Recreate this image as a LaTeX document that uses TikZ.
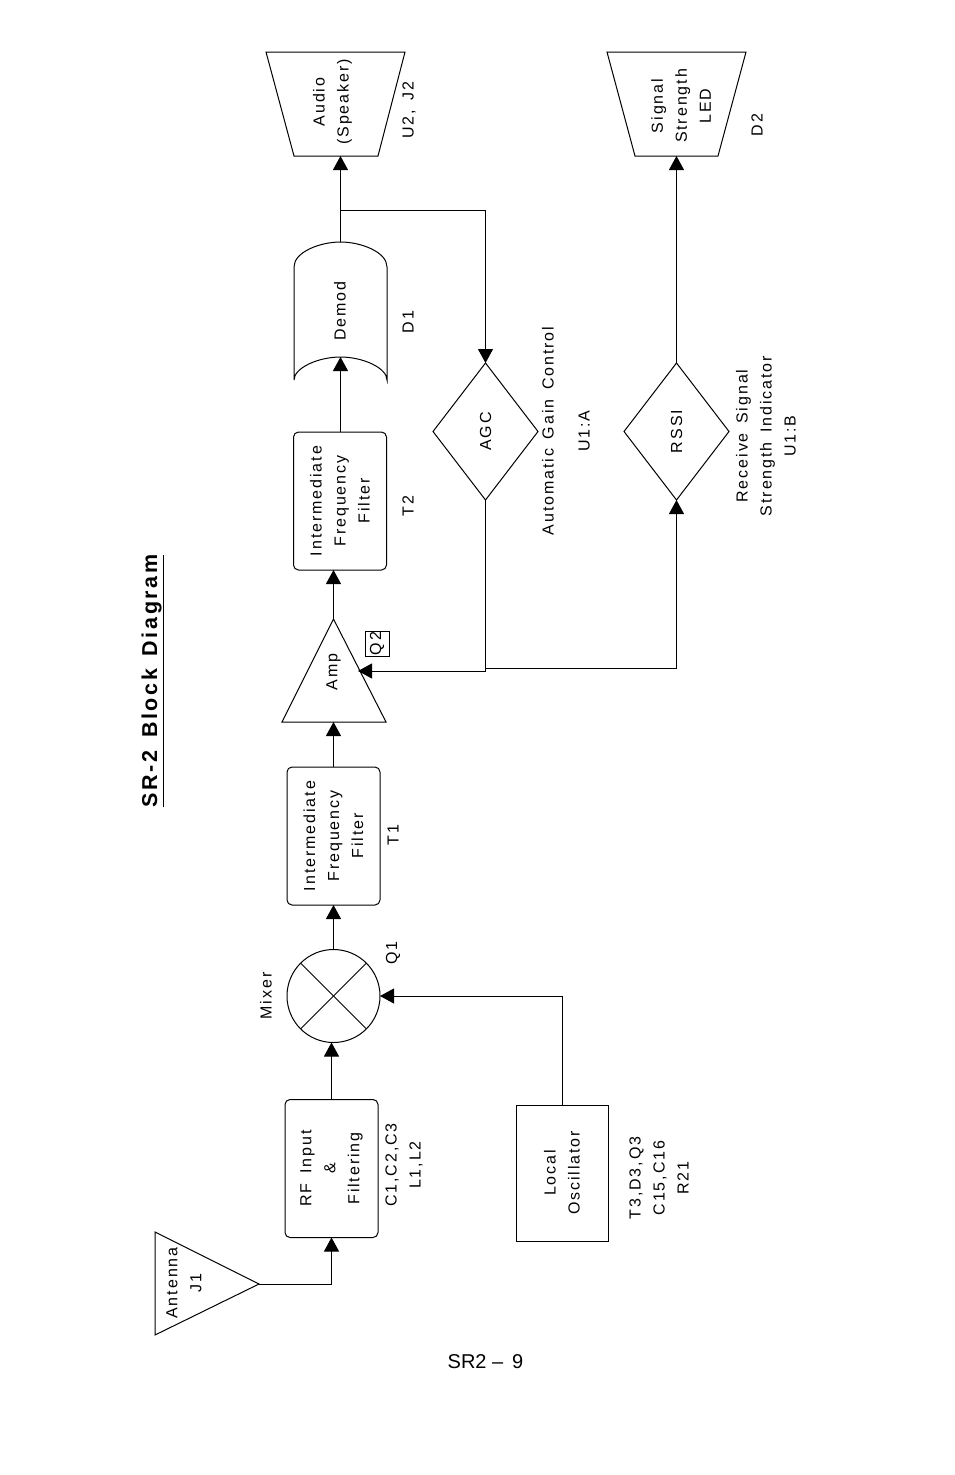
\documentclass[tikz,border=0pt]{standalone}
\usepackage{fontspec}
\usepackage{tikz}
\usetikzlibrary{arrows.meta}
\usetikzlibrary{shapes.geometric}
\newfontfamily\labelfont[LetterSpace=12,WordSpace=1.5]{Liberation Sans}
\newfontfamily\pagefont{Liberation Sans}
\tikzstyle{sigline} = [draw, -{Triangle[length=14pt,width=15pt]}, line width=1.0pt]
\tikzstyle{wire} = [draw, line width=1.0pt]
\tikzstyle{txt} = [rotate=90, align=center, inner sep=0pt]
\tikzstyle{block} = [draw, line width=1.0pt, rotate=90, align=center, outer sep=0pt, inner sep=0pt, minimum width=138pt, minimum height=93pt]
\tikzstyle{filter} = [block, rounded corners=5pt]
\tikzstyle{decision} = [block, diamond, minimum width=137pt, minimum height=105pt]

\begin{document}
\begin{tikzpicture}[x=1pt,y=-1pt]
	\tikzstyle{every node}=[font=\labelfont\fontsize{16}{24}\selectfont]
	\useasboundingbox (0,0) rectangle (954,1475);

	\node[txt, font=\labelfont\bfseries\fontsize{21.5}{24}\selectfont] (title) at (152.5,681) {\underline{SR-2 Block Diagram}};

	% ------------------- Blocks, bottom to top ------------------- %
	\draw[wire] (155,1232) -- (155,1335) -- (259,1284) coordinate (anttip) -- cycle;
	\node[txt] (antenna) at (184,1283) {Antenna\\J1};

	\node[filter] (rf) at (331.5,1168.5) {RF Input\\\&\\Filtering};
	\node[txt] (rfparts) at (404,1165) {C1,C2,C3\\L1,L2};

	\node[block, minimum width=136pt, minimum height=92pt] (lo) at (562,1173) {Local\\Oscillator};
	\node[txt] (loparts) at (659,1178) {T3,D3,Q3\\C15,C16\\R21};

	\node[draw, circle, line width=1.0pt, minimum size=93pt, inner sep=0pt, outer sep=0pt] (mixer) at (333.5,996) {};
	\draw[wire] (mixer.north west) -- (mixer.south east);
	\draw[wire] (mixer.north east) -- (mixer.south west);
	\node[txt] (mixerlabel) at (266,996) {Mixer};
	\node[txt] (q1) at (393,953) {Q1};

	\node[filter] (if1) at (333.5,836) {Intermediate\\Frequency\\Filter};
	\node[txt] (t1) at (393,835) {T1};

	\draw[wire] (333.5,619) coordinate (amptip) -- (386,722) -- (282,722) -- cycle;
	\coordinate (ampbase) at (333.5,722);
	\coordinate (ampin) at (358,671);
	\node[txt] (amp) at (333.5,672) {Amp};
	\node[draw, line width=0.8pt, minimum width=25pt, minimum height=24pt, inner sep=0pt, rotate=90] (q2) at (377,643.5) {Q2};

	\node[filter] (if2) at (340,501) {Intermediate\\Frequency\\Filter};
	\node[txt] (t2) at (408,506) {T2};

	% demod outline is a drawn path, the label sits in it
	\draw[wire] (294,380) -- (294,267) .. controls (294,252) and (320,242) .. (340.5,242)
		.. controls (361,242) and (387,252) .. (387,267) -- (387,380)
		.. controls (387,368) and (363,357) .. (340.5,357) .. controls (318,357) and (294,368) .. (294,380);
	\coordinate (demodin) at (340.5,357);
	\coordinate (demodout) at (340.5,242);
	\node[txt] (demod) at (340,311) {Demod};
	\node[txt] (d1) at (408,322) {D1};

	\draw[wire] (266,52) -- (405,52) -- (378,156) -- (294,156) -- cycle;
	\coordinate (audioin) at (340.5,156);
	\node[txt] (audio) at (332.5,102) {Audio\\(Speaker)};
	\node[txt] (u2) at (409,110) {U2, J2};

	\draw[wire] (607,52) -- (746,52) -- (718,156) -- (635,156) -- cycle;
	\coordinate (ledin) at (676.5,156);
	\node[txt] (led) at (681,106) {Signal\\Strength\\LED};
	\node[txt] (d2) at (757,125) {D2};

	\node[decision] (agc) at (485.5,431.5) {AGC};
	\node[txt] (agclabel) at (566,431) {Automatic Gain Control\\[12pt]U1:A};

	\node[decision] (rssi) at (676.5,431.5) {RSSI};
	\node[txt] (rssilabel) at (766,436) {Receive Signal\\Strength Indicator\\U1:B};

	% ------------------- Signal path ------------------- %
	\draw[sigline] (anttip) -| (rf.west);
	\draw[sigline] (rf.east) -- (rf.east |- mixer.south);
	\draw[sigline] (lo.east) |- (mixer.east);
	\draw[sigline] (mixer.north) -- (if1.west);
	\draw[sigline] (if1.east) -- (ampbase);
	\draw[sigline] (amptip) -- (amptip |- if2.west);
	\draw[sigline] (demodin |- if2.east) -- (demodin);
	\draw[sigline] (demodout) -- (audioin);

	% ------------------- Feedback and RSSI ------------------- %
	\coordinate (fbsplit) at (340.5,210);
	\coordinate (rssisplit) at (485.5,668.5);
	\draw[sigline] (fbsplit) -| (agc.east);
	\draw[sigline] (agc.west) |- (ampin);
	\draw[sigline] (rssisplit) -| (rssi.west);
	\draw[sigline] (rssi.east) -- (ledin);

	\node[font=\pagefont\fontsize{20}{24}\selectfont, inner sep=0pt] (pagenum) at (485.5,1361.5) {SR2 –\, 9};
\end{tikzpicture}
\end{document}
